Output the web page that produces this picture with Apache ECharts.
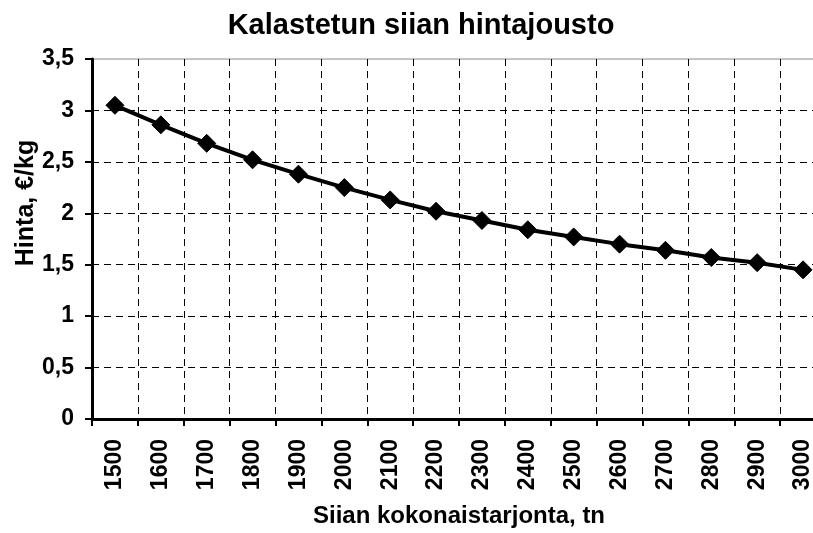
<!DOCTYPE html>
<html>
<head>
<meta charset="utf-8">
<style>
  html, body { margin: 0; padding: 0; overflow: hidden; background: #fff; }
  #chart-container { width: 842px; height: 533px; }
</style>
</head>
<body>
<div id="chart-container"></div>
<script src="https://fastly.jsdelivr.net/npm/echarts@6/dist/echarts.min.js"></script>
<script type="text/javascript">
// supply in tonnes vs price in euro per kg
var supply = ['1500', '1600', '1700', '1800', '1900', '2000', '2100', '2200',
              '2300', '2400', '2500', '2600', '2700', '2800', '2900', '3000'];
var price = [3.05, 2.86, 2.68, 2.52, 2.38, 2.25, 2.13, 2.02,
             1.93, 1.84, 1.77, 1.70, 1.64, 1.57, 1.52, 1.45];
var yTicks = [0, 0.5, 1, 1.5, 2, 2.5, 3, 3.5];

var font = '"Liberation Sans", Arial, sans-serif';

var dom = document.getElementById('chart-container');
var myChart = echarts.init(dom, null, { renderer: 'canvas' });

var option = {
  backgroundColor: '#fff',
  animation: false,
  title: {
    text: 'Kalastetun siian hintajousto',
    left: 'center',
    top: 11,
    padding: 0,
    textStyle: { fontFamily: font, fontWeight: 'bold', fontSize: 29, color: '#000' }
  },
  grid: {
    left: 92, right: 16, top: 59, bottom: 112,
    show: true, borderColor: '#888', borderWidth: 1
  },
  xAxis: {
    type: 'category',
    data: supply,
    boundaryGap: true,
    name: 'Siian kokonaistarjonta, tn',
    nameLocation: 'middle',
    nameGap: 85,
    nameTextStyle: { fontFamily: font, fontWeight: 'bold', fontSize: 24, color: '#000' },
    axisLine: { lineStyle: { color: '#000', width: 3 } },
    axisTick: { show: true, alignWithLabel: false, length: 7, lineStyle: { color: '#000', width: 2 } },
    axisLabel: {
      rotate: 90, margin: 20, interval: 0,
      fontFamily: font, fontWeight: 'bold', fontSize: 23, color: '#000'
    },
    splitLine: { show: true, lineStyle: { color: '#000', width: 1, type: [7, 5] } }
  },
  yAxis: {
    type: 'value',
    min: yTicks[0],
    max: yTicks[yTicks.length - 1],
    interval: 0.5,
    axisLine: { show: true, lineStyle: { color: '#000', width: 3 } },
    axisTick: { show: true, length: 7, lineStyle: { color: '#000', width: 2 } },
    axisLabel: {
      margin: 18,
      fontFamily: font, fontWeight: 'bold', fontSize: 23, color: '#000',
      formatter: function (v) { return String(v).replace('.', ','); }
    },
    splitLine: {
      show: true, showMinLine: false, showMaxLine: false,
      lineStyle: { color: '#000', width: 1, type: [7, 5] }
    }
  },
  graphic: [{
    type: 'text',
    x: 26,
    y: 203,
    rotation: Math.PI / 2,
    style: {
      text: 'Hinta, €/kg',
      font: 'bold 25px ' + font,
      fill: '#000',
      textAlign: 'center', align: 'center',
      textVerticalAlign: 'middle', verticalAlign: 'middle'
    }
  }],
  series: [{
    type: 'line',
    data: price,
    symbol: 'diamond',
    symbolSize: [18, 18],
    showAllSymbol: true,
    lineStyle: { color: '#000', width: 4 },
    itemStyle: { color: '#000', borderColor: '#000' }
  }]
};

myChart.setOption(option);
window.addEventListener('resize', myChart.resize);
</script>
</body>
</html>
